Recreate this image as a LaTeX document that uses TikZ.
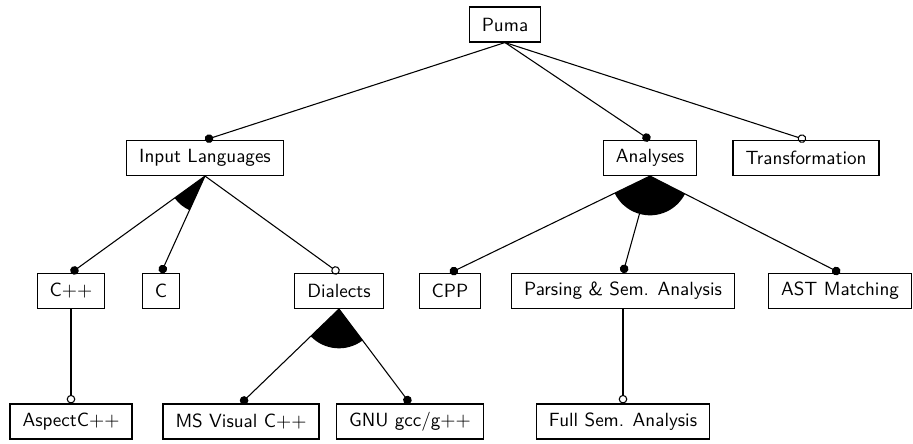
\documentclass[tikz,border=0pt]{standalone}
\usetikzlibrary{arrows.meta,calc}

\tikzset{
  feature/.style={draw, line width=0.6pt, font=\sffamily\fontsize{10.7}{12}\selectfont, minimum height=19.6pt, inner xsep=7pt},
  mand/.style={line width=0.6pt, -{Circle[length=4.8pt]}},
  opt/.style={line width=0.6pt, -{Circle[open,length=4.8pt]}},
}

\begin{document}
\begin{tikzpicture}[x=0.56pt, y=0.56pt]

    \useasboundingbox (0,0) rectangle (913,444);

    % root and first level
    \node[feature] (puma) at (505,419.5) {Puma};
    \node[feature] (input) at (205,286) {Input Languages};
    \node[feature] (analyses) at (650,286) {Analyses};
    \node[feature] (transform) at (806,286) {Transformation};

    % second level
    \node[feature] (cxx) at (71,153) {C$++$};
    \node[feature] (c) at (161,153) {C};
    \node[feature] (dialects) at (339,153) {Dialects};
    \node[feature] (cpp) at (450,153) {CPP};
    \node[feature] (parsing) at (623,153) {Parsing \& Sem. Analysis};
    \node[feature] (ast) at (840,153) {AST Matching};

    % third level
    \node[feature] (aspect) at (71,22.5) {AspectC$++$};
    \node[feature] (msvc) at (241,22.5) {MS Visual C$++$};
    \node[feature] (gnu) at (410,22.5) {GNU gcc/g$++$};
    \node[feature] (fullsem) at (623,22.5) {Full Sem. Analysis};

    % group sectors
    \fill let \p1=($(cxx.north)-(input.south)$), \p2=($(c.north)-(input.south)$),
        \n1={atan2(\y1,\x1)}, \n2={atan2(\y2,\x2)} in
        (input.south) -- ++(\n1:21pt) arc[start angle=\n1, end angle=\n2, radius=21pt] -- cycle;
    \fill let \p1=($(cpp.north)-(analyses.south)$), \p2=($(ast.north)-(analyses.south)$),
        \n1={atan2(\y1,\x1)}, \n2={atan2(\y2,\x2)} in
        (analyses.south) -- ++(\n1:22pt) arc[start angle=\n1, end angle=\n2, radius=22pt] -- cycle;
    \fill let \p1=($(msvc.north)-(dialects.south)$), \p2=($(gnu.north)-(dialects.south)$),
        \n1={atan2(\y1,\x1)}, \n2={atan2(\y2,\x2)} in
        (dialects.south) -- ++(\n1:22pt) arc[start angle=\n1, end angle=\n2, radius=22pt] -- cycle;

    % edges
    \draw[mand] (puma.south) -- (input.north);
    \draw[mand] (puma.south) -- (analyses.north);
    \draw[opt] (puma.south) -- (transform.north);

    \draw[mand] (input.south) -- (cxx.north);
    \draw[mand] (input.south) -- (c.north);
    \draw[opt] (input.south) -- (dialects.north);

    \draw[mand] (analyses.south) -- (cpp.north);
    \draw[mand] (analyses.south) -- (parsing.north);
    \draw[mand] (analyses.south) -- (ast.north);

    \draw[opt] (cxx.south) -- (aspect.north);
    \draw[mand] (dialects.south) -- (msvc.north);
    \draw[mand] (dialects.south) -- (gnu.north);
    \draw[opt] (parsing.south) -- (fullsem.north);

\end{tikzpicture}
\end{document}
